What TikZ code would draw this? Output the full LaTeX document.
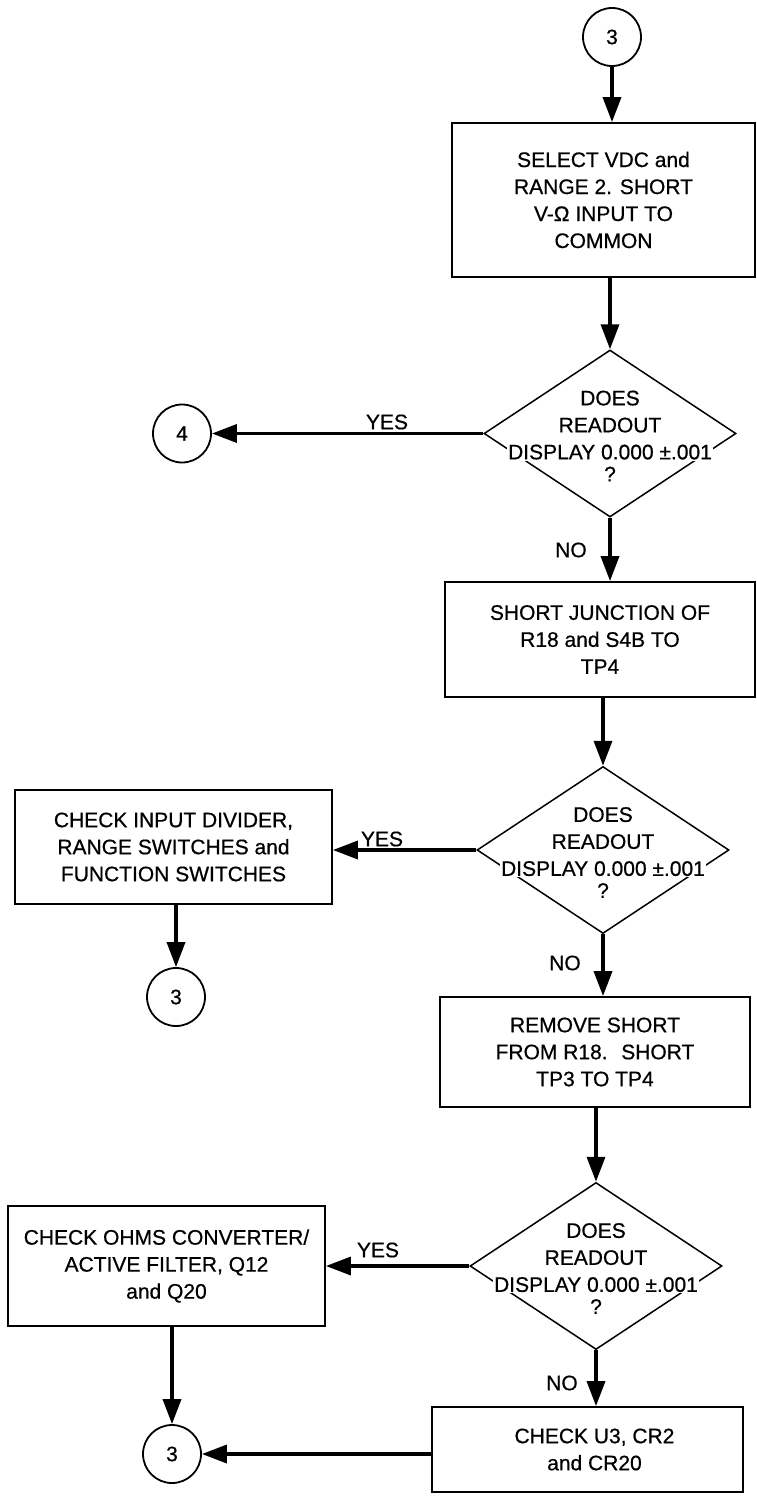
\documentclass[tikz,border=0pt]{standalone}
\usepackage{tikz}
\usepackage{fontspec}
\setmainfont{Liberation Sans}
\newfontfamily\tung[FakeBold=0.6]{Liberation Sans}
\usetikzlibrary{shapes.geometric, arrows.meta}

\newcommand\tekst{\tung\fontsize{21}{27}\selectfont}
\newcommand\visning{{\setlength{\fboxsep}{1pt}\colorbox{white}{DISPLAY 0.000 ±.001}}}

\tikzset{
  boks/.style={draw, line width=1.8pt, inner sep=0pt, align=center, font=\tekst},
  ruter/.style={diamond, draw, line width=1.5pt, minimum width=252pt, minimum height=167pt, inner sep=0pt},
  spmtekst/.style={inner sep=0pt, align=center, font=\tekst},
  konn/.style={circle, draw, line width=1.8pt, minimum size=58pt, inner sep=0pt, font=\tekst},
  pil/.style={line width=3.5pt, -{Triangle[length=25pt,width=18pt]}},
  svar/.style={inner sep=0pt, font=\tekst}
}

\begin{document}
\begin{tikzpicture}[x=1pt, y=-1pt]
\useasboundingbox (0,0) rectangle (756,1498);

%%%%------------Start----------------%%
\node[konn] (start) at (612,37) {3};
\node[boks, minimum width=303pt, minimum height=154pt] (select) at (603.5,200)
	{SELECT VDC and\\RANGE 2. SHORT\\V-Ω INPUT TO\\COMMON};

%%%%------------Spørgsmål 1----------------%%
\node[ruter] (spm1) at (610,433.5) {};
\node[spmtekst] (spm1t) at (610,436) {DOES\\READOUT\\\visning\\[-5pt]?};
\node[konn] (til4) at (182,433.5) {4};
\node[svar] (ja1) at (387,422) {YES};
\node[svar] (nej1) at (571,550) {NO};

%%%%------------Trin 2----------------%%
\node[boks, minimum width=310pt, minimum height=115pt] (jnk) at (600,639.5)
	{SHORT JUNCTION OF\\R18 and S4B TO\\TP4};

%%%%------------Spørgsmål 2----------------%%
\node[ruter] (spm2) at (603,850) {};
\node[spmtekst] (spm2t) at (603,852.5) {DOES\\READOUT\\\visning\\[-5pt]?};
\node[boks, minimum width=317pt, minimum height=114pt] (deler) at (173.5,847)
	{CHECK INPUT DIVIDER,\\RANGE SWITCHES and\\FUNCTION SWITCHES};
\node[konn] (til3a) at (176,997) {3};
\node[svar] (ja2) at (382,839) {YES};
\node[svar] (nej2) at (565,963) {NO};

%%%%------------Trin 3----------------%%
\node[boks, minimum width=310pt, minimum height=110pt] (fjern) at (595,1052)
	{REMOVE SHORT\\FROM R18.~ SHORT\\TP3 TO TP4};

%%%%------------Spørgsmål 3----------------%%
\node[ruter] (spm3) at (596,1266) {};
\node[spmtekst] (spm3t) at (596,1268.5) {DOES\\READOUT\\\visning\\[-5pt]?};
\node[boks, minimum width=317pt, minimum height=120pt] (ohm) at (166.5,1266)
	{CHECK OHMS CONVERTER/\\ACTIVE FILTER, Q12\\and Q20};
\node[svar] (ja3) at (378,1250) {YES};
\node[svar] (nej3) at (562,1383) {NO};

%%%%------------Slut----------------%%
\node[boks, minimum width=311pt, minimum height=85pt] (u3) at (587.5,1449.5)
	{\hspace*{14pt}CHECK U3, CR2\\\hspace*{14pt}and CR20};
\node[konn] (til3b) at (172,1454) {3};

%%%-------------Pile-------------%%%
\draw[pil] (start) -- (start |- select.north);
\draw[pil] (select.south -| spm1) -- (spm1.north);
\draw[pil] (spm1.west) -- (til4);
\draw[pil] (spm1.south) -- (spm1.south |- jnk.north);
\draw[pil] (jnk.south -| spm2) -- (spm2.north);
\draw[pil] (spm2.west) -- (spm2.west -| deler.east);
\draw[pil] (deler.south -| til3a) -- (til3a);
\draw[pil] (spm2.south) -- (spm2.south |- fjern.north);
\draw[pil] (fjern.south -| spm3) -- (spm3.north);
\draw[pil] (spm3.west) -- (spm3.west -| ohm.east);
\draw[pil] (ohm.south -| til3b) -- (til3b);
\draw[pil] (spm3.south) -- (spm3.south |- u3.north);
\draw[pil] (til3b -| u3.west) -- (til3b);

\end{tikzpicture}
\end{document}
